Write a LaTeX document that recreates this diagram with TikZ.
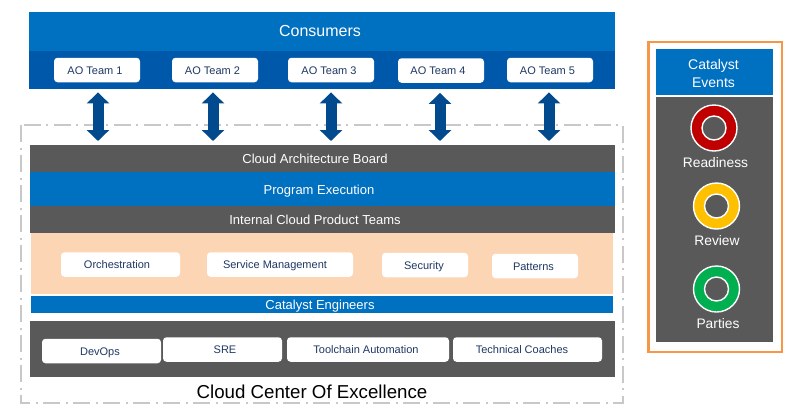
\documentclass[tikz,border=0pt]{standalone}
\usepackage{fontspec}
\setmainfont{Liberation Sans}
\usetikzlibrary{arrows.meta}
\definecolor{azure}{HTML}{0070C0}
\definecolor{deepblue}{HTML}{0058AA}
\definecolor{arrowblue}{HTML}{004A8D}
\definecolor{slate}{HTML}{595959}
\definecolor{peach}{HTML}{FCD5B5}
\definecolor{framegray}{HTML}{C8C8C8}
\definecolor{framing}{HTML}{F79646}
\definecolor{navytext}{HTML}{1F3864}
\definecolor{signalred}{HTML}{C00000}
\definecolor{signalamber}{HTML}{FFC000}
\definecolor{signalgreen}{HTML}{00B050}
\newcommand{\nudge}[2]{\hspace*{#1}#2\hspace*{-#1}}
\begin{document}
\begin{tikzpicture}[x=1pt, y=-1pt,
    band/.style={inner sep=0, outer sep=0, minimum width=#1, text=white,
        text height=9.4pt, text depth=0pt, font=\fontsize{13}{15}\selectfont},
    pill/.style={fill=white, rounded corners=3.5pt, inner sep=0, minimum height=24.5pt, minimum width=#1,
        text=navytext, text height=8pt, text depth=0pt, font=\fontsize{11}{13}\selectfont},
    ring/.style={circle, draw=white, line width=1.4pt, fill=#1, inner sep=0, minimum size=46pt},
    hole/.style={circle, draw=white, line width=1.4pt, fill=slate, inner sep=0, minimum size=24pt},
    eventtext/.style={text=white, font=\fontsize{13.8}{15}\selectfont, inner sep=0},
    biarrow/.style={arrowblue, line width=11pt,
        {Triangle[width=22pt,length=11pt]}-{Triangle[width=22pt,length=11pt]}}]
    \useasboundingbox (0, 0) rectangle (800, 416);

    % Dashed frame
    \draw[framegray, line width=1.5pt, dash pattern=on 17pt off 6pt on 2pt off 5pt]
        (21, 125) rectangle (623, 403);
    \node[text=black, font=\fontsize{18.7}{20}\selectfont, text height=13.5pt, text depth=0pt, inner sep=0] (coe) at (312, 391.8) {Cloud Center Of Excellence};

    % Consumers
    \node[band=586pt, fill=azure, minimum height=38.6pt, text height=11.5pt, font=\fontsize{16}{18}\selectfont] (consumers) at (322, 31.2) {\nudge{-2pt}{Consumers}};
    \node[band=586pt, fill=deepblue, minimum height=38.5pt] (teamband) at (322, 69.75) {};
    \node[pill=86pt] (team1) at (97, 70) {\nudge{-2pt}{AO Team 1}};
    \node[pill=86pt] (team2) at (215, 70) {\nudge{-2.5pt}{AO Team 2}};
    \node[pill=86pt] (team3) at (331, 70) {\nudge{-2pt}{AO Team 3}};
    \node[pill=86pt] (team4) at (441, 70.5) {\nudge{-3pt}{AO Team 4}};
    \node[pill=86pt] (team5) at (550, 70) {\nudge{-2.5pt}{AO Team 5}};

    % Layers
    \node[band=585pt, fill=slate, minimum height=27pt] (board) at (322.5, 158.5) {\nudge{-7.5pt}{Cloud Architecture Board}};
    \node[band=585pt, fill=azure, minimum height=35pt] (program) at (322.5, 189.5) {\nudge{-3.5pt}{Program Execution}};
    \node[band=585pt, fill=slate, minimum height=27pt] (internal) at (322.5, 219.5) {\nudge{-7.5pt}{Internal Cloud Product Teams}};
    \node[band=582pt, fill=peach, minimum height=61pt] (products) at (322, 263.5) {};
    \node[band=582pt, fill=azure, minimum height=17pt] (catalyst) at (322, 304.5) {\nudge{-2pt}{Catalyst Engineers}};
    \node[band=585pt, fill=slate, minimum height=56pt] (tools) at (322.5, 349) {};

    % Boxes in the layers
    \node[pill=119pt] (orchestration) at (120.5, 264.5) {\nudge{-3.5pt}{Orchestration}};
    \node[pill=146pt] (service) at (280, 264.5) {\nudge{-5pt}{Service Management}};
    \node[pill=86pt] (security) at (425, 265) {\nudge{-1pt}{Security}};
    \node[pill=86pt] (patterns) at (535, 266) {\nudge{-1.5pt}{Patterns}};
    \node[pill=119pt] (devops) at (101.5, 351) {\nudge{-1.5pt}{DevOps}};
    \node[pill=119pt] (sre) at (222.5, 349.5) {\nudge{2.5pt}{SRE}};
    \node[pill=162pt] (toolchain) at (368, 349.5) {\nudge{-2pt}{Toolchain Automation}};
    \node[pill=149pt] (coaches) at (527.5, 349.5) {\nudge{-5.5pt}{Technical Coaches}};

    % Arrows
    \foreach \n/\x in {1/98, 2/213, 3/331, 4/440, 5/549}
        \draw[biarrow, shorten <=10pt, shorten >=4pt] (\x, 0 |- team\n.south) -- (\x, 0 |- board.north);

    % Catalyst events
    \draw[framing, line width=2.5pt] (648.5, 42) rectangle (782, 352);
    \node[band=117pt, fill=azure, minimum height=46pt] (events) at (714.5, 72) {};
    \node[text=white, font=\fontsize{14}{18}\selectfont, inner sep=0, align=center] (eventstext) at (713.5, 73) {Catalyst\\Events};
    \node[band=117pt, fill=slate, minimum height=245pt] (eventbody) at (714.5, 219.5) {};
    \node[ring=signalred] (readiness) at (714, 128) {};
    \node[hole] (readinesshole) at (readiness) {};
    \node[eventtext] (readinesstext) at (715.5, 163) {Readiness};
    \node[ring=signalamber] (review) at (716.5, 206) {};
    \node[hole] (reviewhole) at (review) {};
    \node[eventtext] (reviewtext) at (717, 241) {Review};
    \node[ring=signalgreen] (parties) at (716.5, 289) {};
    \node[hole] (partieshole) at (parties) {};
    \node[eventtext] (partiestext) at (718, 324) {Parties};
\end{tikzpicture}
\end{document}
